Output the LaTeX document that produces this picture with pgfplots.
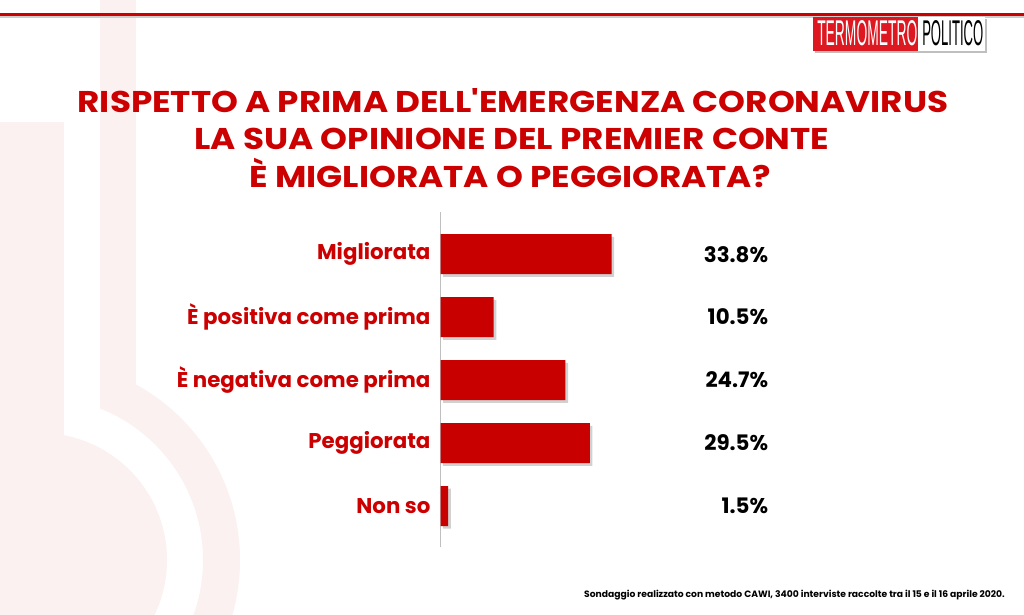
\documentclass[border=0pt]{standalone}
\usepackage{pgfplots}
\pgfplotsset{compat=1.18}
\usepackage{fontspec}
\setmainfont{Poppins}
\newfontfamily\titlefont{Poppins}[FakeStretch=1.14]
\newfontfamily\logofont{Liberation Sans}
\definecolor{tpred}{RGB}{204,0,0}
\definecolor{barred}{RGB}{200,0,0}
\definecolor{logored}{RGB}{222,24,32}
\definecolor{wm}{RGB}{251,241,241}
\newcommand\px[2]{({(#1)*0.75pt},{(614-(#2))*0.75pt})}
\begin{document}
\begin{tikzpicture}
% page
\useasboundingbox (0,0) rectangle (768pt,460.5pt);
\fill[white] (0,0) rectangle (768pt,460.5pt);
% watermark thermometer
\begin{scope}
\clip (0,0) rectangle (768pt,460.5pt);
\fill[wm] \px{0}{122} rectangle \px{64}{614};
\fill[wm] \px{40}{560} circle (95.25pt);
\begin{scope}
\clip \px{100}{300} rectangle \px{400}{614};
\fill[wm,even odd rule] \px{40}{560} circle (150pt) \px{40}{560} circle (122.25pt);
\end{scope}
\fill[wm] \px{100}{0} rectangle \px{136}{400};
\end{scope}
% top rule
\fill[black!20] \px{0}{16.5} rectangle \px{1024}{18};
\fill[tpred] \px{0}{13.5} rectangle \px{1024}{16.5};
% logo
\fill[black!25] \px{815}{19} rectangle \px{987}{53};
\fill[white] \px{813}{17} rectangle \px{985}{51};
\fill[logored] \px{813}{17} rectangle \px{918}{51};
\node[anchor=south west, inner sep=0pt, text=white] at \px{817}{46} {\resizebox{75pt}{18.75pt}{\logofont TERMOMETRO}};
\node[anchor=south west, inner sep=0pt, text=black] at \px{922}{46} {\resizebox{45.75pt}{18.75pt}{\logofont POLITICO}};
% title
\begin{scope}[every node/.style={anchor=base, inner sep=0pt, text=tpred, font=\titlefont\bfseries\fontsize{22.5}{26}\selectfont}]
\node at \px{513}{113} {RISPETTO A PRIMA DELL'EMERGENZA CORONAVIRUS};
\node at \px{512}{150} {LA SUA OPINIONE DEL PREMIER CONTE};
\node at \px{510}{188} {È MIGLIORATA O PEGGIORATA?};
\end{scope}
% footnote
\node[anchor=base east, inner sep=0pt, font=\bfseries\fontsize{6.9}{9}\selectfont] at \px{1005}{597}
  {Sondaggio realizzato con metodo CAWI, 3400 interviste raccolte tra il 15 e il 16 aprile 2020.};
% chart
\begin{axis}[
  at={(330.375pt,50.25pt)}, anchor=south west,
  scale only axis, width=227.7pt, height=251.25pt,
  xmin=0, xmax=60, ymin=0.35, ymax=5.67,
  axis x line=none, axis y line*=left,
  y axis line style={draw=black!25, line width=0.6pt, -},
  ytick={1,2,3,4,5},
  yticklabels={Non so, Peggiorata, È negativa come prima, È positiva come prima, Migliorata},
  major tick length=0pt,
  yticklabel style={font=\bfseries\fontsize{16}{19}\selectfont, text=tpred, xshift=-4pt},
  clip=false,
]
\addplot[xbar, bar width=30pt, fill=barred, draw=none,
  preaction={fill=black, opacity=0.18, transform canvas={xshift=2pt, yshift=-2pt}}]
  coordinates {(33.8,5) (10.5,4) (24.7,3) (29.5,2) (1.5,1)};
\addplot[draw=none, mark=none, point meta=explicit,
  nodes near coords={\pgfmathprintnumber[assume math mode=true,fixed,fixed zerofill,precision=1]{\pgfplotspointmeta}\%},
  nodes near coords style={anchor=east, inner sep=0pt, text=black, font=\bfseries\fontsize{16}{19}\selectfont}]
  coordinates {(64.8,5) [33.8] (64.8,4) [10.5] (64.8,3) [24.7] (64.8,2) [29.5] (64.8,1) [1.5]};
\end{axis}
\end{tikzpicture}
\end{document}
